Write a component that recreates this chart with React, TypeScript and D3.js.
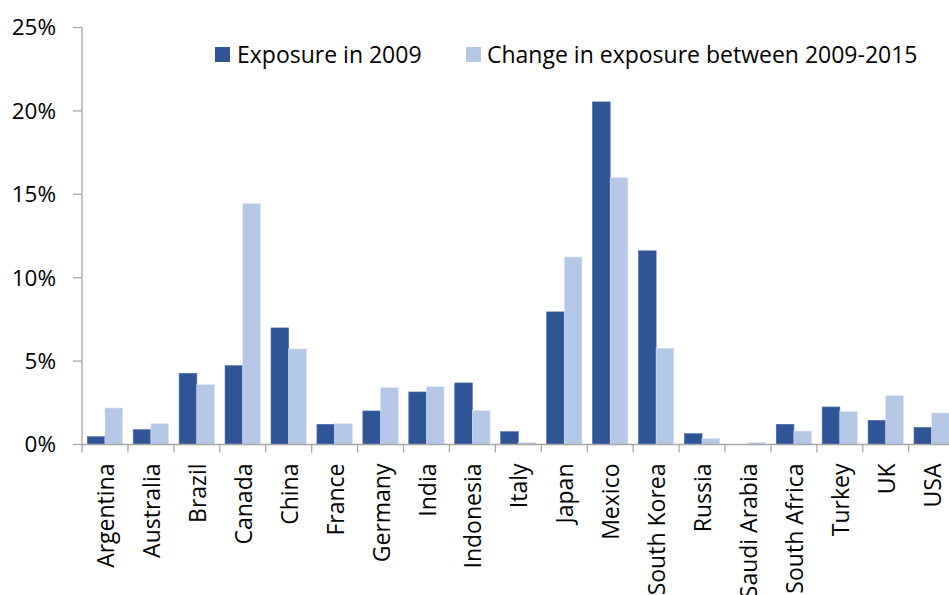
import React from "react";
import * as d3 from "d3";

const countries = [
  "Argentina", "Australia", "Brazil", "Canada", "China", "France", "Germany",
  "India", "Indonesia", "Italy", "Japan", "Mexico", "South Korea", "Russia",
  "Saudi Arabia", "South Africa", "Turkey", "UK", "USA",
];
const exposure2009 = [
  0.47, 0.89, 4.27, 4.73, 6.99, 1.21, 2.01, 3.15, 3.69, 0.77, 7.95, 20.54,
  11.61, 0.65, 0.0, 1.21, 2.25, 1.45, 1.03,
];
const exposureChange = [
  2.19, 1.25, 3.59, 14.44, 5.73, 1.25, 3.41, 3.47, 2.03, 0.11, 11.24, 16.0,
  5.77, 0.35, 0.11, 0.81, 1.97, 2.93, 1.89,
];
const yTicks = [0, 5, 10, 15, 20, 25];
const seriesNames = ["Exposure in 2009", "Change in exposure between 2009-2015"];
const seriesColors = ["#2F5597", "#B4C7E7"];

const W = 949;
const H = 595;
const FONT = "'Open Sans', 'Noto Sans', sans-serif";

export default function App() {
  const left = 82;
  const base = 444.5;
  const top = 27.5;
  const step = 45.93;

  const x0 = d3
    .scaleBand<string>()
    .domain(countries)
    .range([left, left + step * countries.length])
    .paddingInner(0.23)
    .paddingOuter(0.115);
  const x1 = d3
    .scaleBand<number>()
    .domain([0, 1])
    .range([0, x0.bandwidth()])
    .padding(0);
  const y = d3.scaleLinear().domain([0, 25]).range([base, top]);

  const series = [exposure2009, exposureChange];
  const axisColor = "#A6A6A6";
  const pct = (v: number) => `${v}%`;

  return (
    <svg
      width={W}
      height={H}
      style={{ position: "absolute", left: 0, top: 0, background: "#fff" }}
      fontFamily={FONT}
    >
      {/* bars */}
      {countries.map((c, i) => (
        <g key={c} transform={`translate(${x0(c)},0)`}>
          {series.map((s, k) => (
            <rect
              key={k}
              x={x1(k)}
              y={y(s[i])}
              width={x1.bandwidth()}
              height={base - y(s[i])}
              fill={seriesColors[k]}
              stroke={k === 0 ? "#4A6EAB" : "#DCE5F4"}
              strokeWidth={0.6}
            />
          ))}
        </g>
      ))}

      {/* y axis */}
      <line x1={left} x2={left} y1={top} y2={base} stroke={axisColor} strokeWidth={1.3} />
      {yTicks.map((t) => (
        <g key={t}>
          <line x1={left - 9} x2={left} y1={y(t)} y2={y(t)} stroke={axisColor} strokeWidth={1.3} />
          <text
            x={56}
            y={y(t)}
            dy="0.35em"
            textAnchor="end"
            fontSize={22.5}
            fill="#000"
          >
            {pct(t)}
          </text>
        </g>
      ))}

      {/* x axis */}
      <line
        x1={left}
        x2={left + step * countries.length}
        y1={base}
        y2={base}
        stroke={axisColor}
        strokeWidth={1.3}
      />
      {d3.range(countries.length + 1).map((j) => (
        <line
          key={j}
          x1={left + j * step}
          x2={left + j * step}
          y1={base}
          y2={base + 8}
          stroke={axisColor}
          strokeWidth={1.3}
        />
      ))}
      {countries.map((c) => {
        const cx = (x0(c) as number) + x0.bandwidth() / 2;
        return (
          <text
            key={c}
            transform={`translate(${cx + 1},${base + 19}) rotate(-90)`}
            textAnchor="end"
            dy="0.35em"
            fontSize={23}
            fill="#000"
          >
            {c}
          </text>
        );
      })}

      {/* legend */}
      {[
        { sx: 215, tx: 237 },
        { sx: 466, tx: 487 },
      ].map((p, k) => (
        <g key={k}>
          <rect x={p.sx} y={47} width={15} height={15} fill={seriesColors[k]} />
          <text x={p.tx} y={54.5} dy="0.35em" fontSize={23} fill="#000">
            {seriesNames[k]}
          </text>
        </g>
      ))}
    </svg>
  );
}
